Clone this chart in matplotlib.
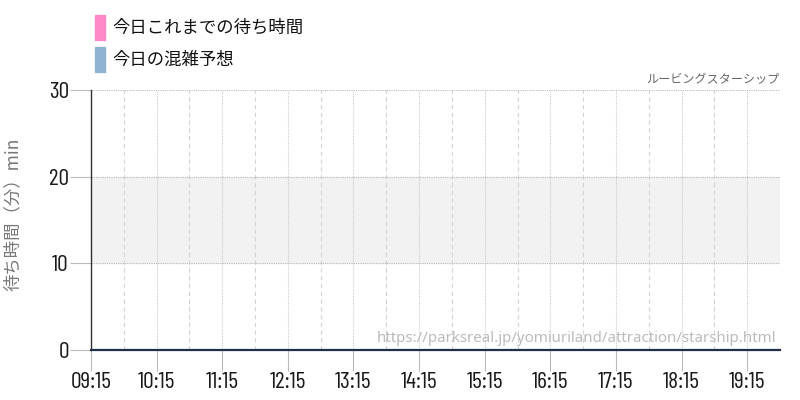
import matplotlib
matplotlib.use("Agg")
import matplotlib.pyplot as plt
from matplotlib import font_manager
from matplotlib.patches import Rectangle

# Data
tick_labels = ["09:15", "10:15", "11:15", "12:15", "13:15", "14:15",
               "15:15", "16:15", "17:15", "18:15", "19:15"]
forecast_times = ["09:15", "19:45"]
forecast_waits = [0, 0]
legend_labels = ["今日これまでの待ち時間", "今日の混雑予想"]
legend_colors = ["#ff88c8", "#8fb3d3"]
y_ticks = [0, 10, 20, 30]
band = (10, 20)
title = "ルービングスターシップ"
ylabel = "待ち時間（分）min"
source = "https://parksreal.jp/yomiuriland/attraction/starship.html"


def to_hours(t):
    h, m = t.split(":")
    return int(h) + int(m) / 60


names = {f.name for f in font_manager.fontManager.ttflist}
num_font = next((n for n in ["Barlow Condensed", "Roboto Condensed", "Roboto"]
                 if n in names), "DejaVu Sans")
cjk = ["Noto Sans CJK JP", "DejaVu Sans"]

fig = plt.figure(figsize=(8, 4), dpi=100)
ax = fig.add_axes([0.11375, 0.125, 0.86125, 0.65])

x_min = to_hours(tick_labels[0])
x_max = to_hours(forecast_times[-1])
ax.set_xlim(x_min, x_max)
ax.set_ylim(0, 30)

# grey band between 10 and 20
ax.axhspan(band[0], band[1], color="#f2f2f2", zorder=0)

major = [to_hours(t) for t in tick_labels]
minor = [m + 0.5 for m in major]
for x in major:
    ax.axvline(x, color="#cccccc", lw=0.8, ls=(0, (1, 1)), zorder=1)
for x in minor:
    ax.axvline(x, color="#d4d4d4", lw=0.8, ls=(0, (4, 3)), zorder=1)
for y in y_ticks[1:]:
    ax.axhline(y, color="#bbbbbb", lw=0.8, ls=(0, (1, 1)), zorder=1)

ax.plot([to_hours(t) for t in forecast_times], forecast_waits,
        color="#1f3048", lw=1.6, zorder=3, clip_on=False)

ax.set_xticks(major)
ax.set_xticklabels(tick_labels)
ax.set_yticks(y_ticks)
ax.tick_params(axis="x", length=15, width=0.8, color="#bbbbbb", pad=1,
               labelsize=17, labelcolor="#1a1a1a")
ax.tick_params(axis="y", length=15, width=0.8, color="#bbbbbb", pad=1,
               labelsize=17, labelcolor="#1a1a1a")
for lab in ax.get_xticklabels() + ax.get_yticklabels():
    lab.set_family(num_font)

for side in ["top", "right", "bottom"]:
    ax.spines[side].set_visible(False)
ax.spines["left"].set_color("#333333")
ax.spines["left"].set_linewidth(1.0)

ax.set_ylabel(ylabel, family=cjk, fontsize=12.5, color="#777777")
ax.yaxis.set_label_coords(-0.1, 0.52)

ax.text(1.0, 1.015, title, transform=ax.transAxes, ha="right", va="bottom",
        family=cjk, fontsize=8.7, color="#666666")
ax.text(0.995, 0.015, source, transform=ax.transAxes, ha="right", va="bottom",
        family=["Noto Sans", "DejaVu Sans"], fontsize=10.8, color="#bbbbbb")

# legend squares at the top left
for i, (lab, col) in enumerate(zip(legend_labels, legend_colors)):
    y0 = 1 - (15 + 32 * i) / 400
    fig.patches.append(Rectangle((95 / 800, y0 - 25 / 400), 10 / 800, 25 / 400,
                                 transform=fig.transFigure, color=col))
    fig.text(112 / 800, y0 - 12.5 / 400, lab, family=cjk, fontsize=12.5,
             color="#111111", va="center", ha="left")

fig.savefig("out.png", dpi=100)
